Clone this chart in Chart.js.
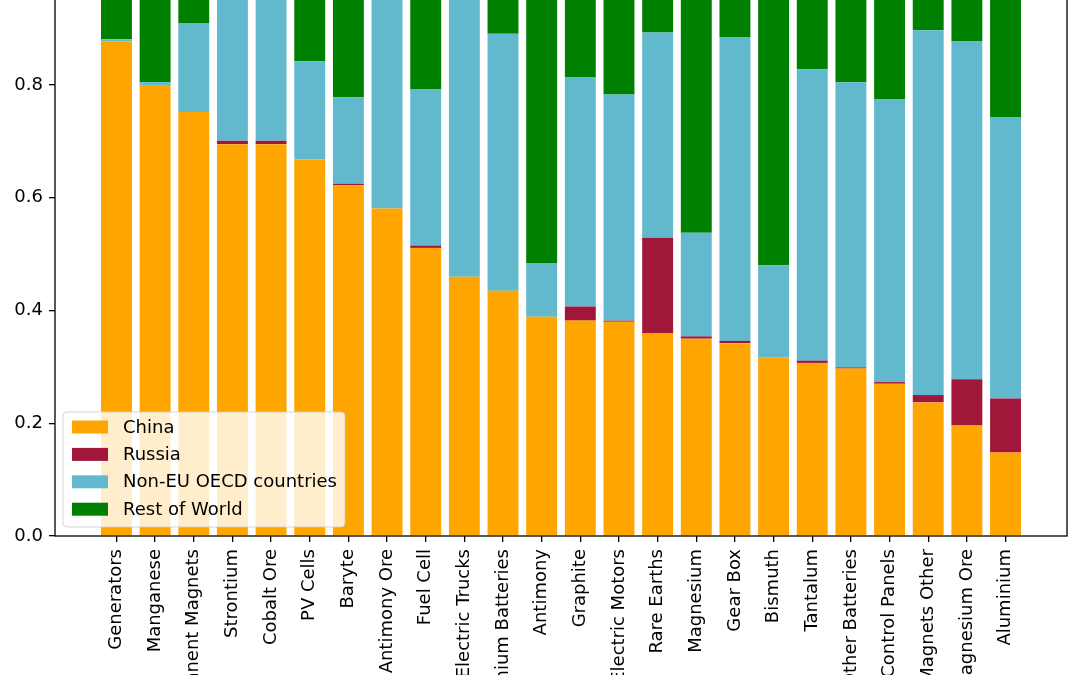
<!DOCTYPE html>
<html lang="en">
<head>
    <meta charset="UTF-8">
    <title>Supply shares</title>
    <script src="https://cdn.jsdelivr.net/npm/chart.js"></script>
    <style>
        html, body { margin: 0; padding: 0; background: #fff; overflow: hidden; width: 1080px; height: 675px; }
        .grafico { position: absolute; left: 0; top: -100px; width: 1080px; height: 836px; }
    </style>
</head>
<body>
    <div class="grafico">
        <canvas id="myChart"></canvas>
    </div>
<script>
const names = ['Generators', 'Manganese', 'Permanent Magnets', 'Strontium', 'Cobalt Ore', 'PV Cells', 'Baryte',
    'Antimony Ore', 'Fuel Cell', 'Electric Trucks', 'Lithium Batteries', 'Antimony', 'Graphite', 'Electric Motors',
    'Rare Earths', 'Magnesium', 'Gear Box', 'Bismuth', 'Tantalum', 'Other Batteries', 'Control Panels',
    'Magnets Other', 'Magnesium Ore', 'Aluminium']

const china  = [0.877, 0.800, 0.752, 0.695, 0.695, 0.668, 0.622, 0.581, 0.511, 0.460, 0.435, 0.389,
                0.382, 0.380, 0.359, 0.350, 0.342, 0.317, 0.307, 0.297, 0.270, 0.237, 0.196, 0.148]
const russia = [0, 0, 0, 0.006, 0.006, 0, 0.003, 0, 0.004, 0, 0, 0,
                0.025, 0.002, 0.170, 0.004, 0.004, 0, 0.004, 0.002, 0.003, 0.013, 0.082, 0.096]
const oecd   = [0.004, 0.005, 0.158, 0.299, 0.299, 0.174, 0.153, 0.419, 0.277, 0.540, 0.456, 0.095,
                0.406, 0.401, 0.364, 0.184, 0.539, 0.163, 0.517, 0.506, 0.501, 0.647, 0.600, 0.499]
const rest   = [0.119, 0.195, 0.090, 0, 0, 0.158, 0.222, 0, 0.208, 0, 0.109, 0.516,
                0.187, 0.217, 0.107, 0.462, 0.115, 0.520, 0.172, 0.195, 0.226, 0.103, 0.122, 0.257]

const yTicks = [0, 0.2, 0.4, 0.6, 0.8, 1.0]

function serie(label, valores, cor){
    return {
        label: label,
        data: valores.map((v, i) => ({x: i, y: v})),
        backgroundColor: cor,
        borderWidth: 0,
        barPercentage: 0.8,
        categoryPercentage: 1.0
    }
}

const moldura = {
    id: 'moldura',
    afterDraw(chart){
        const c = chart.ctx
        const a = chart.chartArea
        c.save()
        c.strokeStyle = '#000'
        c.lineWidth = 1.3
        c.strokeRect(a.left, a.top, a.right - a.left, a.bottom - a.top)

        // legenda
        const sets = chart.data.datasets
        const lx = a.left + 8, lw = 282, lh = 115
        const ly = a.bottom - 9 - lh
        c.fillStyle = 'rgba(255,255,255,0.8)'
        c.strokeStyle = 'rgba(204,204,204,0.8)'
        c.lineWidth = 1
        c.beginPath()
        c.roundRect(lx, ly, lw, lh, 4)
        c.fill()
        c.stroke()
        c.font = '18px "DejaVu Sans"'
        c.textBaseline = 'middle'
        for (let i = 0; i < sets.length; i++){
            const cy = ly + 15 + i * 27.4
            c.fillStyle = sets[i].backgroundColor
            c.fillRect(lx + 9, cy - 6.5, 36, 13)
            c.fillStyle = '#000'
            c.fillText(sets[i].label, lx + 60, cy + 1)
        }
        c.restore()
    }
}

Chart.defaults.font.family = 'DejaVu Sans'
Chart.defaults.font.size = 18
Chart.defaults.color = '#000'

const ctx = document.getElementById('myChart')
const grafico = new Chart(ctx, {
    type: 'bar',
    data: {
        datasets: [
            serie('China', china, '#FFA500'),
            serie('Russia', russia, '#A0173A'),
            serie('Non-EU OECD countries', oecd, '#62B9CE'),
            serie('Rest of World', rest, '#008000')
        ]
    },
    options: {
        responsive: true,
        maintainAspectRatio: false,
        animation: false,
        layout: { padding: { top: 44, right: 13, left: 0, bottom: 0 } },
        plugins: { legend: { display: false }, tooltip: { enabled: false } },
        scales: {
            x: {
                type: 'linear',
                stacked: true,
                offset: false,
                min: -1.59,
                max: names.length - 1 + 1.59,
                afterBuildTicks: s => { s.ticks = names.map((n, i) => ({value: i})) },
                afterFit: s => { s.height = 200 },
                grid: { display: true, offset: false, drawOnChartArea: false, drawTicks: true, tickLength: 6, color: '#000', lineWidth: 1.3 },
                border: { display: false },
                ticks: {
                    autoSkip: false,
                    maxRotation: 90,
                    minRotation: 90,
                    padding: 7,
                    color: '#000',
                    callback: v => names[v]
                }
            },
            y: {
                stacked: true,
                min: 0,
                max: 1.05,
                afterBuildTicks: s => { s.ticks = yTicks.map(v => ({value: v})) },
                afterFit: s => { s.width = 55 },
                grid: { display: true, drawOnChartArea: false, drawTicks: true, tickLength: 6, color: '#000', lineWidth: 1.3 },
                border: { display: false },
                ticks: {
                    padding: 6,
                    color: '#000',
                    callback: v => v.toFixed(1)
                }
            }
        }
    },
    plugins: [moldura]
})
</script>
</body>
</html>
